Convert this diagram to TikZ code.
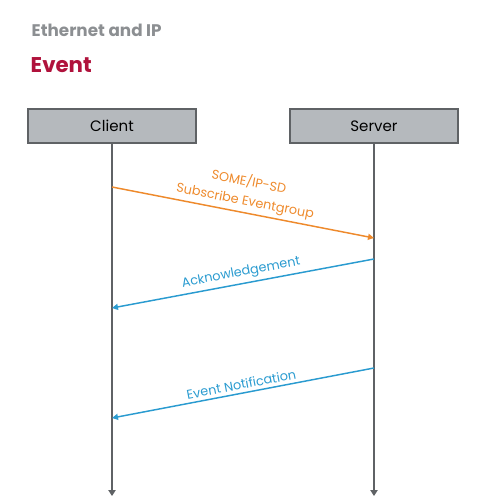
\documentclass[tikz,border=0pt]{standalone}
\usepackage{fontspec}
\setmainfont{Poppins}
\usetikzlibrary{arrows.meta}

\definecolor{headgrey}{HTML}{8C8F92}
\definecolor{eventred}{HTML}{B0123C}
\definecolor{boxgrey}{HTML}{B5B9BD}
\definecolor{linegrey}{HTML}{5F6265}
\definecolor{sdorange}{HTML}{EE8A2C}
\definecolor{msgblue}{HTML}{2A9BD0}

\begin{document}
\begin{tikzpicture}[
  x=0.75pt, y=-0.75pt,
  party/.style={draw=linegrey, fill=boxgrey, line width=0.9pt,
    minimum width=126pt, minimum height=25.5pt, font=\fontsize{11.3}{13}\selectfont},
  life/.style={-{Triangle[length=4.5pt, width=5.5pt]}, draw=linegrey, line width=1.1pt},
  msg/.style={-{Triangle[length=4.5pt, width=4.5pt]}, line width=1.1pt},
  lbl/.style={sloped, above, align=center, inner sep=2.5pt,
    font=\fontsize{9.6}{14.5}\selectfont}
]
\useasboundingbox (0,0) rectangle (480,503);

%% ===== titles =====
\node[anchor=west, text=headgrey, font=\bfseries\fontsize{12.6}{15}\selectfont] (sect) at (27,30) {Ethernet and IP};
\node[anchor=west, text=eventred, font=\bfseries\fontsize{16}{19}\selectfont] (ttl) at (26,65) {Event};

%% ===== participants and lifelines =====
\node[party] (client) at (112,126) {Client};
\node[party] (server) at (374,126) {Server};

\coordinate (cend) at (112,496);
\coordinate (send) at (374,496);
\draw[life] (client) -- (cend);
\draw[life] (server) -- (send);

%% ===== messages =====
\coordinate (c1) at (112,187);
\coordinate (s1) at (374,238);
\coordinate (s2) at (374,259);
\coordinate (c2) at (112,308);
\coordinate (s3) at (374,368);
\coordinate (c3) at (112,418);

\draw[msg, draw=sdorange, fill=sdorange] (c1) -- (s1)
  node[lbl, midway, text=sdorange] {SOME/IP-SD\\Subscribe Eventgroup};
\draw[msg, draw=msgblue, fill=msgblue] (s2) -- (c2)
  node[lbl, midway, text=msgblue] {Acknowledgement};
\draw[msg, draw=msgblue, fill=msgblue] (s3) -- (c3)
  node[lbl, midway, text=msgblue] {Event Notification};
\end{tikzpicture}
\end{document}
